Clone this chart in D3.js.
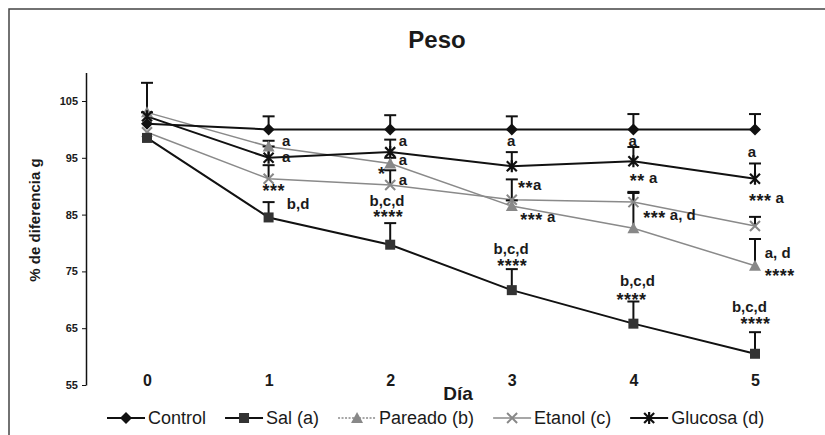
<!DOCTYPE html>
<meta charset="utf-8">
<title>Peso</title>
<style>
    body { margin: 0; background: #fff; }
    text { font-family: "Liberation Sans", Arial, sans-serif; fill: #1a1a1a; }
</style>
<body>
<script src="https://d3js.org/d3.v7.min.js"></script>
<script>

    var w = 825, h = 435;

    // data
    var days = [0, 1, 2, 3, 4, 5];
    var yTicks = [55, 65, 75, 85, 95, 105];

    var control    = [101, 100, 100, 100, 100, 100];
    var controlErr = [2, 2.3, 2.5, 2.3, 2.7, 2.7];
    var sal        = [98.5, 84.5, 79.7, 71.7, 65.8, 60.5];
    var salErr     = [0, 2.7, 3.8, 3.7, 3.9, 3.8];
    var pareado    = [103, 97, 94, 86.5, 82.6, 76];
    var pareadoErr = [5.2, 1, 1, 1, 6.2, 4.7];
    var etanol     = [99.5, 91.3, 90.2, 87.6, 87.2, 83];
    var etanolErr  = [0, 2.4, 2.6, 3.6, 1.8, 1.6];
    var glucosa    = [102.3, 95, 96, 93.5, 94.4, 91.3];
    var glucosaErr = [0, 2, 2.2, 2.5, 2.5, 2.7];

    // significance labels: [day, value, text]
    var notes = [
        [1.11, 97.1, "a"], [1.11, 94.3, "a"], [0.95, 88.8, "***"], [1.15, 86.0, "b,d"],
        [2.07, 97.1, "a"], [2.07, 93.7, "a"], [1.90, 91.8, "*"], [2.07, 90.2, "a"],
        [1.83, 86.6, "b,c,d"], [1.86, 84.2, "****"],
        [2.96, 97.1, "a"], [3.05, 89.3, "**a"], [3.07, 83.7, "*** a"],
        [2.85, 78.1, "b,c,d"], [2.88, 75.6, "****"],
        [3.96, 97.1, "a"], [3.97, 90.6, "** a"], [4.08, 84.0, "*** a, d"],
        [3.89, 72.4, "b,c,d"], [3.86, 69.7, "****"],
        [4.94, 95.1, "a"], [4.95, 87.0, "*** a"], [5.08, 77.4, "a, d"],
        [5.08, 73.9, "****"], [4.81, 67.9, "b,c,d"], [4.88, 65.4, "****"]
    ];

    var series = [
        { name: "Control",     values: control, err: controlErr, line: "#111", lw: 2,   marker: "diamond",  mc: "#111" },
        { name: "Sal (a)",     values: sal,     err: salErr,     line: "#111", lw: 2,   marker: "square",   mc: "#333" },
        { name: "Pareado (b)", values: pareado, err: pareadoErr, line: "#8a8a8a", lw: 1.5, marker: "triangle", mc: "#888" },
        { name: "Etanol (c)",  values: etanol,  err: etanolErr,  line: "#8a8a8a", lw: 1.5, marker: "x",        mc: "#888" },
        { name: "Glucosa (d)", values: glucosa, err: glucosaErr, line: "#111", lw: 2,   marker: "star",     mc: "#111" }
    ];

    var x = d3.scaleLinear().domain([0, 5]).range([147, 755]);
    var y = d3.scaleLinear().domain([55, 110]).range([385, 72.6]);

    var svg = d3.select("body").append("svg")
        .attr("width", w)
        .attr("height", h);

    // frame
    svg.append("rect")
        .attr("x", 9).attr("y", 9)
        .attr("width", 840).attr("height", 450)
        .attr("fill", "none")
        .attr("stroke", "#444")
        .attr("stroke-width", 1.5);

    svg.append("text")
        .attr("x", 437).attr("y", 48)
        .attr("text-anchor", "middle")
        .style("font-size", "24px").style("font-weight", "bold")
        .text("Peso");

    // y axis
    var yAxis = svg.append("g")
        .attr("transform", "translate(86,0)")
        .call(d3.axisLeft(y).tickValues(yTicks).tickSize(4).tickSizeOuter(0).tickPadding(4));
    yAxis.select(".domain").attr("stroke", "#111").attr("stroke-width", 1.5);
    yAxis.selectAll(".tick line").attr("stroke", "#111");
    yAxis.selectAll("text")
        .style("font-size", "11px").style("font-weight", "bold")
        .style("font-family", "'Liberation Sans', Arial, sans-serif");

    svg.append("text")
        .attr("transform", "translate(40,220)rotate(-90)")
        .attr("text-anchor", "middle")
        .style("font-size", "15px").style("font-weight", "bold")
        .text("% de diferencia g");

    // x axis, labels only
    var xAxis = svg.append("g")
        .attr("transform", "translate(0,373)")
        .call(d3.axisBottom(x).tickValues(days).tickSize(0).tickPadding(2).tickFormat(d3.format("d")));
    xAxis.select(".domain").remove();
    xAxis.selectAll("text")
        .style("font-size", "16px").style("font-weight", "bold")
        .style("font-family", "'Liberation Sans', Arial, sans-serif");

    svg.append("text")
        .attr("x", 458).attr("y", 400)
        .attr("text-anchor", "middle")
        .style("font-size", "19px").style("font-weight", "bold")
        .text("Día");

    function marker(g, type, color) {
        if (type === "diamond") {
            g.append("path").attr("d", "M0,-6L6,0L0,6L-6,0Z").attr("fill", color);
        } else if (type === "square") {
            g.append("rect").attr("x", -5).attr("y", -5).attr("width", 10).attr("height", 10).attr("fill", color);
        } else if (type === "triangle") {
            g.append("path").attr("d", "M0,-6L6,5L-6,5Z").attr("fill", color);
        } else if (type === "x") {
            g.append("path").attr("d", "M-5,-5L5,5M-5,5L5,-5").attr("stroke", color).attr("stroke-width", 2);
        } else if (type === "star") {
            g.append("path").attr("d", "M-5,-5L5,5M-5,5L5,-5M0,-6L0,6").attr("stroke", color).attr("stroke-width", 2.2);
        }
    }

    var line = d3.line()
        .x(function(d, i) { return x(days[i]); })
        .y(function(d) { return y(d); });

    // lines first, then error bars, then markers (lighter series behind)
    var order = [3, 2, 4, 1, 0];
    order.forEach(function(k) {
        var s = series[k];
        svg.append("path")
            .datum(s.values)
            .attr("d", line)
            .attr("fill", "none")
            .attr("stroke", s.line)
            .attr("stroke-width", s.lw);
    });

    order.forEach(function(k) {
        var s = series[k];
        var eb = svg.append("g");
        s.values.forEach(function(v, i) {
            if (!s.err[i]) return;
            var cx = x(days[i]);
            eb.append("line")
                .attr("x1", cx).attr("x2", cx)
                .attr("y1", y(v)).attr("y2", y(v + s.err[i]))
                .attr("stroke", "#111").attr("stroke-width", 2);
            eb.append("line")
                .attr("x1", cx - 6).attr("x2", cx + 6)
                .attr("y1", y(v + s.err[i])).attr("y2", y(v + s.err[i]))
                .attr("stroke", "#111").attr("stroke-width", 2);
        });
    });

    order.forEach(function(k) {
        var s = series[k];
        s.values.forEach(function(v, i) {
            var g = svg.append("g").attr("transform", "translate(" + x(days[i]) + "," + y(v) + ")");
            marker(g, s.marker, s.mc);
        });
    });

    // notes: asterisk runs drawn a bit larger and lower, like the original
    svg.selectAll(".note")
        .data(notes)
        .enter().append("text")
        .attr("class", "note")
        .attr("x", function(d) { return x(d[0]); })
        .attr("y", function(d) { return y(d[1]); })
        .style("font-size", "15px").style("font-weight", "bold")
        .each(function(d) {
            var t = d3.select(this);
            var parts = d[2].match(/\*+|[^*]+/g);
            var shifted = false;
            parts.forEach(function(p) {
                var star = p.charAt(0) === "*";
                var dy = 0;
                if (star && !shifted) { dy = 4; shifted = true; }
                else if (!star && shifted) { dy = -4; shifted = false; }
                t.append("tspan")
                    .attr("dy", dy)
                    .style("font-size", star ? "18px" : null)
                    .style("letter-spacing", star ? "0.5px" : null)
                    .text(p);
            });
        });

    // legend
    var lx = 107, ly = 418;
    series.forEach(function(s) {
        var g = svg.append("g").attr("transform", "translate(" + lx + "," + ly + ")");
        g.append("line")
            .attr("x1", 0).attr("x2", 38)
            .attr("stroke", s.line).attr("stroke-width", s.lw)
            .attr("stroke-dasharray", s.marker === "triangle" ? "2,1.5" : null);
        var mg = g.append("g").attr("transform", "translate(19,0)");
        marker(mg, s.marker, s.mc);
        var t = g.append("text")
            .attr("x", 41).attr("y", 6)
            .style("font-size", "18px")
            .text(s.name);
        lx += 41 + t.node().getComputedTextLength() + 19;
    });

</script>
